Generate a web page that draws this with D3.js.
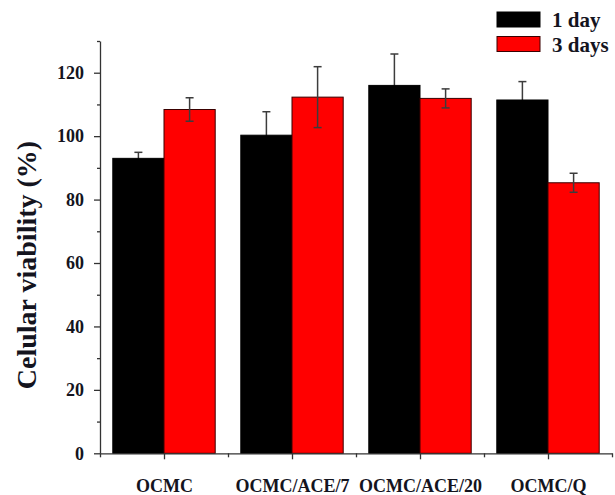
<!DOCTYPE html>
<html>
<head>
<meta charset="utf-8">
<script src="https://cdn.jsdelivr.net/npm/d3@7/dist/d3.min.js"></script>
<style>
  html, body { margin: 0; padding: 0; background: #fff; }
  svg { display: block; }
  svg text { font-family: "Times New Roman", Times, "Liberation Serif", serif !important; font-weight: bold; fill: #14141e; }
</style>
</head>
<body>
<script>
// Cell viability after 1 and 3 days (mean ± SD)
const categories = ["OCMC", "OCMC/ACE/7", "OCMC/ACE/20", "OCMC/Q"];
const seriesNames = ["1 day", "3 days"];
const seriesColors = ["#000000", "#ff0000"];
const day1Values = [93.0, 100.3, 116.0, 111.4];
const day1Errors = [1.9, 7.4, 9.9, 5.8];
const day3Values = [108.4, 112.3, 111.9, 85.3];
const day3Errors = [3.7, 9.6, 3.0, 3.0];
const yMajorTicks = [0, 20, 40, 60, 80, 100, 120];
const yMinorTicks = [10, 30, 50, 70, 90, 110, 130];

const W = 615, H = 495;
const svg = d3.select("body").append("svg").attr("width", W).attr("height", H);

// categories sit at positions 1..4 on a linear axis
const x = d3.scaleLinear().domain([0.5, 4.5]).range([100, 612]);
const y = d3.scaleLinear().domain([0, 130]).range([453.3, 41]);
const barW = 0.4; // in category units

const series = [
  { name: seriesNames[0], color: seriesColors[0], stroke: "#000", values: day1Values, errors: day1Errors, offset: -barW },
  { name: seriesNames[1], color: seriesColors[1], stroke: "#3a0000", values: day3Values, errors: day3Errors, offset: 0 }
];

const axisColor = "#333";
const errColor = "#3c3c3c";

function drawErrors(s, g) {
  const rows = s.values.map((v, i) => ({ v, e: s.errors[i], c: i + 1 + s.offset + barW / 2 }));
  const eg = g.append("g").attr("stroke", errColor).attr("stroke-width", 1.5).attr("fill", "none");
  eg.selectAll("line.v").data(rows).join("line").attr("class", "v")
    .attr("x1", d => x(d.c)).attr("x2", d => x(d.c))
    .attr("y1", d => y(d.v - d.e)).attr("y2", d => y(d.v + d.e));
  eg.selectAll("line.cap").data(rows).join("line").attr("class", "cap")
    .attr("x1", d => x(d.c) - 4).attr("x2", d => x(d.c) + 4)
    .attr("y1", d => y(d.v + d.e)).attr("y2", d => y(d.v + d.e));
  eg.selectAll("line.capb").data(rows).join("line").attr("class", "capb")
    .attr("x1", d => x(d.c) - 4).attr("x2", d => x(d.c) + 4)
    .attr("y1", d => y(d.v - d.e)).attr("y2", d => y(d.v - d.e));
}

const plot = svg.append("g");

// black error bars first so the bar hides the lower half
drawErrors(series[0], plot);

series.forEach(s => {
  plot.append("g").selectAll("rect").data(s.values).join("rect")
    .attr("x", (d, i) => x(i + 1 + s.offset))
    .attr("width", x(barW) - x(0))
    .attr("y", d => y(d))
    .attr("height", d => y(0) - y(d))
    .attr("fill", s.color)
    .attr("stroke", s.stroke)
    .attr("stroke-width", 1);
});

drawErrors(series[1], plot);

// y axis
const yAxis = svg.append("g").attr("transform", `translate(${x(0.5)},0)`)
  .call(d3.axisLeft(y).tickValues(yMajorTicks).tickSize(6).tickSizeOuter(0).tickPadding(10));
yAxis.attr("font-family", null).attr("font-size", null);
yAxis.select(".domain").attr("stroke", axisColor).attr("stroke-width", 1.3);
yAxis.selectAll(".tick line").attr("stroke", axisColor).attr("stroke-width", 1.3);
yAxis.selectAll(".tick text").attr("font-size", 18).attr("fill", "#14141e");
svg.append("g").attr("transform", `translate(${x(0.5)},0)`)
  .call(d3.axisLeft(y).tickValues(yMinorTicks).tickSize(3).tickFormat(""))
  .call(g => g.select(".domain").remove())
  .selectAll(".tick line").attr("stroke", axisColor).attr("stroke-width", 1.3);

// x axis
const xAxis = svg.append("g").attr("transform", `translate(0,${y(0)})`)
  .call(d3.axisBottom(x).tickValues([1, 2, 3, 4]).tickFormat(d => categories[d - 1]).tickSize(6).tickSizeOuter(0).tickPadding(20));
xAxis.attr("font-family", null).attr("font-size", null);
xAxis.select(".domain").attr("stroke", axisColor).attr("stroke-width", 1.3);
xAxis.selectAll(".tick line").attr("stroke", axisColor).attr("stroke-width", 1.3);
xAxis.selectAll(".tick text").attr("font-size", 18).attr("fill", "#14141e");
svg.append("g").attr("transform", `translate(0,${y(0)})`)
  .call(d3.axisBottom(x).tickValues([0.5, 1.5, 2.5, 3.5, 4.5]).tickSize(4).tickFormat(""))
  .call(g => g.select(".domain").remove())
  .selectAll(".tick line").attr("stroke", axisColor).attr("stroke-width", 1.3);

// y axis title
svg.append("text")
  .attr("transform", "translate(36,265) rotate(-90)")
  .attr("text-anchor", "middle")
  .attr("font-size", 28)
  .text("Celular viability (%)");

// legend
const legend = svg.append("g");
series.forEach((s, i) => {
  legend.append("rect")
    .attr("x", 497).attr("y", 12 + i * 24.5)
    .attr("width", 43).attr("height", 15)
    .attr("fill", s.color).attr("stroke", s.stroke).attr("stroke-width", 1);
  legend.append("text")
    .attr("x", 552).attr("y", 27 + i * 25)
    .attr("font-size", 21)
    .text(s.name);
});
</script>
</body>
</html>
